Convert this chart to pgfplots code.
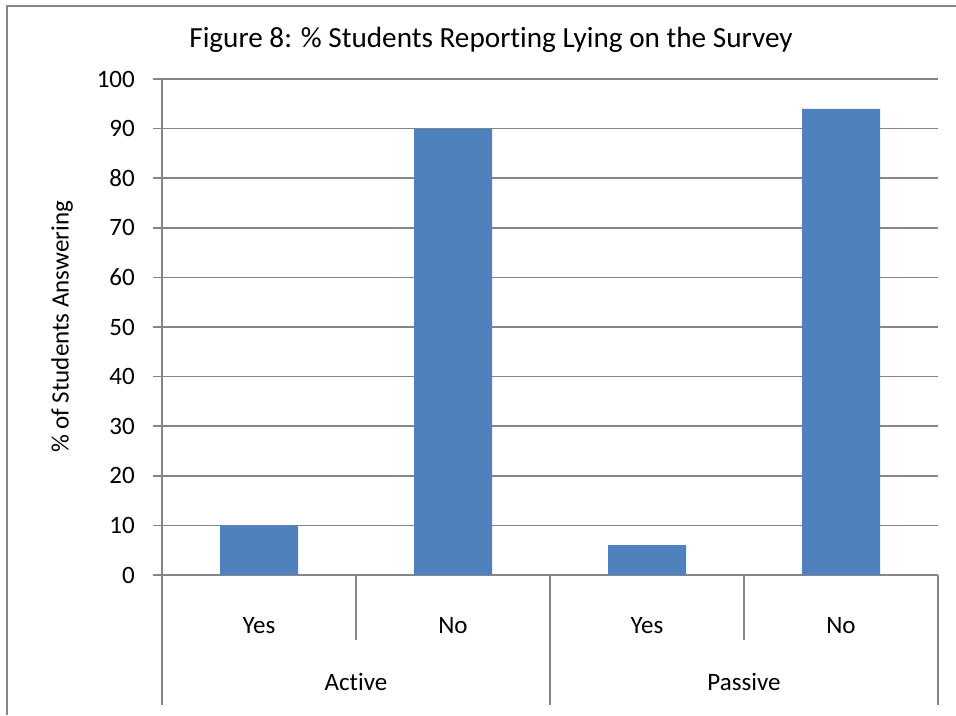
\documentclass[border=0pt]{standalone}
\usepackage{pgfplots}
\pgfplotsset{compat=1.18}
\usepackage{fontspec}
\setmainfont{Carlito}[Ligatures=NoCommon]
\definecolor{barblue}{HTML}{4F81BD}
\definecolor{linegray}{HTML}{868686}
\newcommand{\lblfont}{\fontsize{25}{30}\selectfont}
\begin{document}
\begin{tikzpicture}[x=1pt,y=1pt]
\useasboundingbox (0,0) rectangle (956,715);
% chart frame
\draw[linegray, line width=1.6pt] (7,0) -- (7,709) -- (960,709);
% title and y label
\node[font=\fontsize{29.2}{34}\selectfont] at (491,675) {Figure 8: \% Students Reporting Lying on the Survey};
\node[rotate=90, font=\lblfont] at (62,388) {\% of Students Answering};
\begin{axis}[
  at={(162pt,140pt)}, anchor=south west,
  scale only axis, width=776pt, height=496pt,
  xmin=-0.5, xmax=3.5, ymin=0, ymax=100,
  axis x line=bottom, axis y line=left,
  axis line style={linegray, line width=1.6pt, -},
  ytick={0,10,...,100},
  ymajorgrids, grid style={linegray, line width=1.6pt},
  y tick style={linegray, line width=1.6pt},
  major tick length=9pt, tick align=outside,
  xtick={0,1,2,3}, xticklabels={Yes,No,Yes,No},
  x tick style={draw=none},
  tick label style={font=\lblfont, text=black},
  /pgf/number format/assume math mode=true,
  yticklabel style={inner sep=0pt, anchor=east, xshift=-18pt},
  xticklabel style={inner sep=0pt, anchor=center, yshift=-42pt},
  clip=false,
]
\addplot[ybar, bar width=78pt, fill=barblue, draw=none]
  coordinates {(0,10) (1,90) (2,6) (3,94)};
% category separators
\pgfplotsinvokeforeach{0.5,2.5}{
  \draw[linegray, line width=1.6pt] (axis cs:#1,0) -- ([yshift=-65pt]axis cs:#1,0);
}
% group separators
\pgfplotsinvokeforeach{-0.5,1.5,3.5}{
  \draw[linegray, line width=1.6pt] (axis cs:#1,0) -- ([yshift=-130pt]axis cs:#1,0);
}
% group labels
\node[font=\lblfont] at ([yshift=-107pt]axis cs:0.5,0) {Active};
\node[font=\lblfont] at ([yshift=-107pt]axis cs:2.5,0) {Passive};
\end{axis}
\end{tikzpicture}
\end{document}
